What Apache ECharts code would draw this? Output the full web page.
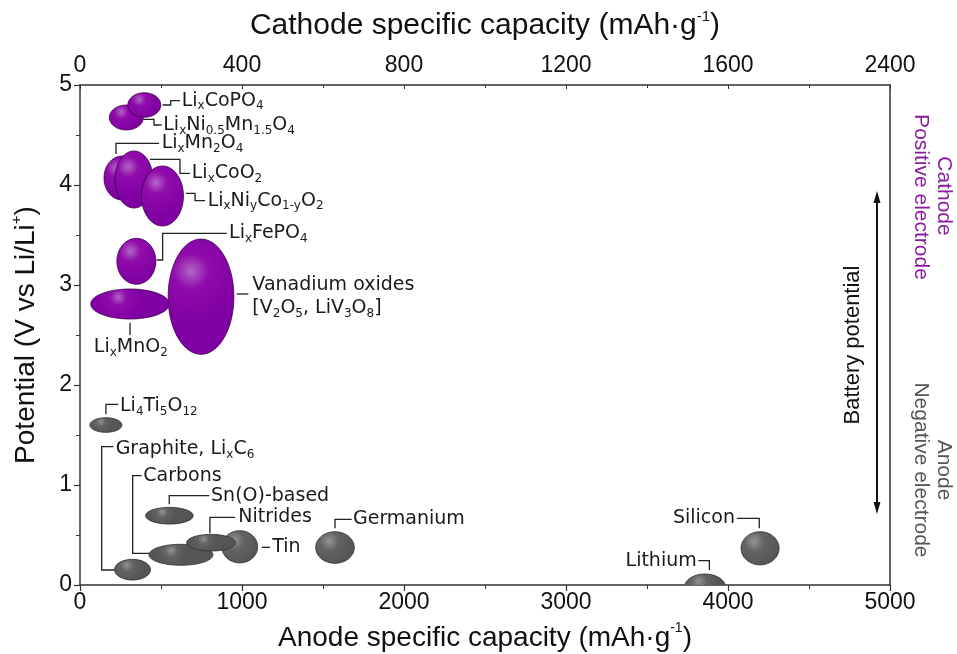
<!DOCTYPE html>
<html><head><meta charset="utf-8">
<script src="https://cdn.jsdelivr.net/npm/echarts@6/dist/echarts.min.js"></script>
<style>html,body{margin:0;padding:0;background:#fff}#c{width:957px;height:654px}</style>
</head><body><div id="c"></div>
<script>
// ---- data (anode-scale capacity in mAh/g, potential in V vs Li/Li+) ----
const materialNames = ['LixNi0.5Mn1.5O4','LixCoPO4','LixMn2O4','LixCoO2','LixNiyCo1-yO2','LixFePO4','LixMnO2','Vanadium oxides',
  'Li4Ti5O12','Graphite','Tin','Carbons','Nitrides','Sn(O)-based','Germanium','Silicon','Lithium'];
const materialKind = ['cathode','cathode','cathode','cathode','cathode','cathode','cathode','cathode',
  'anode','anode','anode','anode','anode','anode','anode','anode','anode'];
const capacityCenter = [286,397,259,333,509,348,309,747, 160,324,986,623,809,552,1574,4198,3858];
const potentialCenter = [4.675,4.80,4.07,4.055,3.89,3.237,2.81,2.883, 1.60,0.153,0.382,0.302,0.423,0.693,0.375,0.367,-0.02];
const capacitySpan = [210,204,222,235,259,241,485,406, 198,222,222,395,302,294,239,235,253];
const potentialSpan = [0.25,0.246,0.44,0.57,0.60,0.46,0.30,1.153, 0.147,0.207,0.323,0.21,0.167,0.167,0.317,0.333,0.26];

const bottomTickLabels = ['0','1000','2000','3000','4000','5000'];
const topTickLabels = ['0','400','800','1200','1600','2400'];

// ---- annotation layout (data coordinates) ----
const annotations = [
  {text:'Li{s|x}CoPO{s|4}', at:[628,4.843], path:[[510,4.80],[560,4.80],[560,4.843],[617,4.843]]},
  {text:'Li{s|x}Ni{s|0.5}Mn{s|1.5}O{s|4}', at:[514,4.60], path:[[391,4.657],[457,4.657],[457,4.60],[504,4.60]]},
  {text:'Li{s|x}Mn{s|2}O{s|4}', at:[504,4.417], path:[[222,4.31],[222,4.417],[488,4.417]]},
  {text:'Li{s|x}CoO{s|2}', at:[690,4.117], path:[[432,4.257],[617,4.257],[617,4.117],[679,4.117]]},
  {text:'Li{s|x}Ni{s|y}Co{s|1-y}O{s|2}', at:[788,3.843], path:[[654,3.917],[710,3.917],[710,3.843],[772,3.843]]},
  {text:'Li{s|x}FePO{s|4}', at:[920,3.517], path:[[473,3.25],[510,3.25],[510,3.517],[906,3.517]]},
  {text:'Vanadium oxides\n[V{s|2}O{s|5}, LiV{s|3}O{s|8}]', at:[1064,2.885], path:[[967,2.91],[1039,2.91]]},
  {text:'Li{s|x}MnO{s|2}', at:[314,2.375], align:'center', path:[[309,2.623],[309,2.50]]},
  {text:'Li{s|4}Ti{s|5}O{s|12}', at:[247,1.79], path:[[160,1.707],[160,1.807],[236,1.807]]},
  {text:'Graphite, Li{s|x}C{s|6}', at:[220,1.36], path:[[212,0.15],[134,0.15],[134,1.383],[206,1.383]]},
  {text:'Carbons', at:[391,1.09], path:[[426,0.317],[325,0.317],[325,1.093],[381,1.093]]},
  {text:'Sn(O)-based', at:[809,0.893], path:[[551,0.807],[551,0.893],[798,0.893]]},
  {text:'Nitrides', at:[977,0.68], path:[[802,0.517],[802,0.677],[957,0.677]]},
  {text:'Tin', at:[1187,0.377], path:[[1122,0.377],[1173,0.377]]},
  {text:'Germanium', at:[1685,0.66], path:[[1574,0.567],[1574,0.657],[1677,0.657]]},
  {text:'Silicon', at:[4043,0.667], align:'right', path:[[4054,0.667],[4193,0.667],[4193,0.567]]},
  {text:'Lithium', at:[3807,0.243], align:'right', path:[[3817,0.243],[3885,0.243],[3885,0.15]]}
];

const axisColor = '#333';
const sansFont = 'Liberation Sans, Arial, sans-serif';
const narrowFont = 'Liberation Sans Narrow, Arial Narrow, Liberation Sans, sans-serif';
const labelFont = 'DejaVu Sans, Verdana, sans-serif';

function fillFor(kind){
  if (kind === 'cathode') {
    return {type:'radial', x:0.35, y:0.28, r:0.75, colorStops:[
      {offset:0, color:'#b266c6'},{offset:0.35, color:'#900cab'},{offset:1, color:'#8000a3'}]};
  }
  return {type:'radial', x:0.35, y:0.3, r:0.75, colorStops:[
    {offset:0, color:'#939393'},{offset:0.4, color:'#636363'},{offset:1, color:'#555555'}]};
}

const ellipseData = materialNames.map((n,i)=>[capacityCenter[i], potentialCenter[i], capacitySpan[i], potentialSpan[i], i]);

const chart = echarts.init(document.getElementById('c'), null, {renderer:'canvas'});
chart.setOption({
  animation:false,
  backgroundColor:'#fff',
  grid:{left:80, right:67, top:85, bottom:69, outerBoundsMode:'none', containLabel:false},
  xAxis:[{
    type:'value', min:0, max:5000, interval:1000, position:'bottom',
    axisLine:{show:true, onZero:false, lineStyle:{color:axisColor, width:1.5}},
    axisTick:{show:true, length:6, lineStyle:{color:axisColor, width:1.2}},
    minorTick:{show:true, splitNumber:2, length:4, lineStyle:{color:axisColor, width:1}},
    splitLine:{show:false},
    axisLabel:{fontSize:23, color:'#111', fontFamily:sansFont, margin:6,
      formatter:(v)=>bottomTickLabels[Math.round(v/1000)]},
    name:'Anode specific capacity (mAh·g{sup|-1})', nameLocation:'middle', nameGap:36,
    nameTextStyle:{fontSize:28, color:'#111', fontFamily:sansFont, lineHeight:34,
      rich:{sup:{fontSize:14, fontFamily:sansFont, color:'#111', verticalAlign:'top', lineHeight:18}}}
  },{
    type:'value', min:0, max:5000, interval:1000, position:'top',
    axisLine:{show:true, onZero:false, lineStyle:{color:axisColor, width:1.5}},
    axisTick:{show:true, inside:true, length:4, lineStyle:{color:axisColor, width:1}},
    minorTick:{show:true, splitNumber:2, length:3, lineStyle:{color:axisColor, width:1}},
    splitLine:{show:false},
    axisLabel:{fontSize:23, color:'#111', fontFamily:narrowFont, margin:8,
      formatter:(v)=>topTickLabels[Math.round(v/1000)]},
    name:'Cathode specific capacity (mAh·g{sup|-1})', nameLocation:'middle', nameGap:42,
    nameTextStyle:{fontSize:30, color:'#111', fontFamily:narrowFont, lineHeight:34,
      rich:{sup:{fontSize:15, fontFamily:narrowFont, color:'#111', verticalAlign:'top', lineHeight:18}}}
  }],
  yAxis:[{
    type:'value', min:0, max:5, interval:1, position:'left',
    axisLine:{show:true, onZero:false, lineStyle:{color:axisColor, width:1.5}},
    axisTick:{show:true, length:6, lineStyle:{color:axisColor, width:1.2}},
    minorTick:{show:true, splitNumber:2, length:4, lineStyle:{color:axisColor, width:1}},
    splitLine:{show:false},
    axisLabel:{fontSize:23, color:'#111', fontFamily:sansFont, margin:8},
    name:'Potential (V vs Li/Li{sup|+})', nameLocation:'middle', nameGap:37,
    nameTextStyle:{fontSize:28, color:'#111', fontFamily:sansFont, lineHeight:34,
      rich:{sup:{fontSize:15, fontFamily:sansFont, color:'#111', verticalAlign:'top', lineHeight:18}}}
  },{
    type:'value', min:0, max:5, interval:1, position:'right',
    axisLine:{show:true, onZero:false, lineStyle:{color:axisColor, width:1.5}},
    axisTick:{show:false}, axisLabel:{show:false}, splitLine:{show:false}
  }],
  series:[{
    type:'custom', xAxisIndex:0, yAxisIndex:0, clip:true, silent:true,
    data:ellipseData,
    renderItem(params, api){
      const c = api.coord([api.value(0), api.value(1)]);
      const s = api.size([api.value(2), api.value(3)]);
      const kind = materialKind[api.value(4)];
      return {type:'ellipse', shape:{cx:c[0], cy:c[1], rx:s[0]/2, ry:s[1]/2},
        style:{fill:fillFor(kind), stroke: kind==='cathode' ? '#3e0050' : '#2e2e2e', lineWidth:0.8}};
    }
  },{
    type:'custom', xAxisIndex:0, yAxisIndex:0, silent:true,
    data:annotations.map((a,i)=>[a.at[0], a.at[1], i]),
    renderItem(params, api){
      const a = annotations[params.dataIndex];
      const pts = a.path.map(p=>api.coord(p));
      const t = api.coord(a.at);
      return {type:'group', children:[
        {type:'polyline', shape:{points:pts}, style:{stroke:'#222', lineWidth:1.3, fill:null}},
        {type:'text', x:t[0], y:t[1], style:{
          text:a.text, fill:'#1a1a1a', fontSize:19, fontFamily:labelFont,
          align:a.align||'left', verticalAlign:'middle', lineHeight:23,
          rich:{s:{fontSize:12, fontFamily:labelFont, fill:'#1a1a1a', verticalAlign:'bottom', lineHeight:19}}
        }}
      ]};
    }
  }],
  graphic:[
    {type:'line', shape:{x1:877, y1:200, x2:877, y2:505}, style:{stroke:'#111', lineWidth:2}},
    {type:'polygon', shape:{points:[[877,191],[873.5,203],[880.5,203]]}, style:{fill:'#111'}},
    {type:'polygon', shape:{points:[[877,514],[873.5,502],[880.5,502]]}, style:{fill:'#111'}},
    {type:'text', x:853, y:345, rotation:Math.PI/2, style:{text:'Battery potential', fontSize:22, fontFamily:sansFont, fill:'#111', align:'center', verticalAlign:'middle'}},
    {type:'text', x:944, y:196, rotation:-Math.PI/2, style:{text:'Cathode', fontSize:21, fontFamily:sansFont, fill:'#8a1a9e', align:'center', verticalAlign:'middle'}},
    {type:'text', x:921, y:197, rotation:-Math.PI/2, style:{text:'Positive electrode', fontSize:21, fontFamily:sansFont, fill:'#8a1a9e', align:'center', verticalAlign:'middle'}},
    {type:'text', x:944, y:470, rotation:-Math.PI/2, style:{text:'Anode', fontSize:21, fontFamily:sansFont, fill:'#555', align:'center', verticalAlign:'middle'}},
    {type:'text', x:921, y:470, rotation:-Math.PI/2, style:{text:'Negative electrode', fontSize:21, fontFamily:sansFont, fill:'#555', align:'center', verticalAlign:'middle'}}
  ]
});
</script></body></html>
